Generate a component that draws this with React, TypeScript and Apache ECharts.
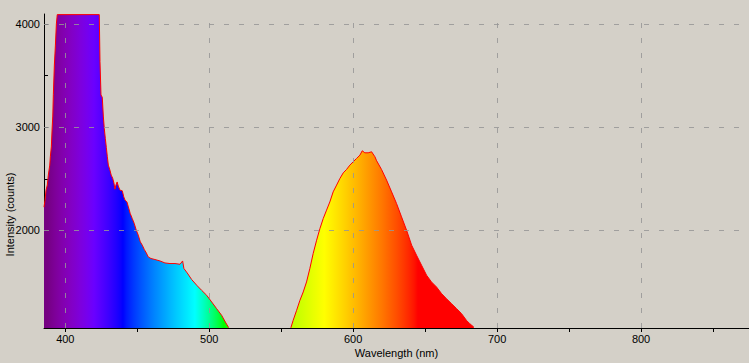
import React, { useEffect, useRef } from "react";
import * as echarts from "echarts";

// Spectrum data: wavelength (nm) and intensity (counts).
// null marks where the signal is below the visible range (gap in the trace).
const wavelengths = [
  385.2, 385.9, 386.6, 387.5, 388.2, 389.2, 389.6, 390.3, 390.8, 391.3, 391.7, 392.4, 393.1, 393.8, 394.4,
  423.6, 424.1, 424.8, 425.7, 426.4, 427.1, 427.8, 428.5, 429.2, 429.9, 431.0, 431.9, 432.9, 433.8, 434.5,
  435.2, 436.0, 436.8, 438.0, 439.6, 440.6, 441.5, 442.8, 443.8, 445.1, 446.5, 447.9, 449.3, 450.7, 452.1,
  453.5, 454.9, 456.3, 457.6, 459.5, 462.3, 465.8, 469.2, 472.7, 476.2, 479.7, 481.5, 482.4, 484.7, 487.8,
  491.3, 494.7, 498.2, 501.7, 505.1, 508.6, 511.6, 513.5, 535.0,
  556.7, 558.3, 560.7, 563.0, 565.3, 567.6, 569.9, 572.2, 574.6, 576.9, 579.2, 581.5, 583.8, 586.1,
  588.5, 590.8, 593.1, 595.4, 597.7, 600.0, 602.4, 604.7, 606.3, 608.1, 610.4, 612.8, 615.1, 616.3, 619.7,
  623.2, 626.7, 630.1, 633.6, 637.1, 640.6, 644.0, 647.5, 651.0, 654.4, 657.9, 661.4, 664.8, 668.3, 671.8,
  675.3, 678.7, 681.0, 683.8,
];
const counts: (number | null)[] = [
  2226, 2294, 2390, 2440, 2536, 2633, 2714, 2810, 2972, 3108, 3318, 3602, 3787, 4000, 4090,
  4090, 3635, 3312, 3290, 3108, 2985, 2892, 2805, 2714, 2633, 2585, 2536, 2507, 2459, 2400,
  2440, 2470, 2430, 2390, 2384, 2326, 2294, 2277, 2229, 2165, 2116, 2068, 2003, 1955, 1890,
  1858, 1816, 1783, 1744, 1729, 1719, 1705, 1686, 1680, 1680, 1673, 1705, 1632, 1589, 1525,
  1470, 1421, 1373, 1308, 1244, 1179, 1104, 1060, null,
  1058, 1130, 1227, 1324, 1405, 1502, 1632, 1777, 1906, 2019, 2116, 2197, 2277, 2374,
  2440, 2504, 2558, 2591, 2633, 2665, 2698, 2730, 2772, 2752, 2752, 2762, 2714, 2675, 2591,
  2488, 2374, 2262, 2132, 2003, 1858, 1761, 1664, 1567, 1502, 1453, 1389, 1340, 1292, 1244,
  1195, 1130, 1098, 1065,
];

const xLabelValues = [400, 500, 600, 700, 800];
const xTickValues = [400, 450, 500, 550, 600, 650, 700, 750, 800, 850];
const yLabelValues = [2000, 3000, 4000];
const yTickValues = [1500, 2000, 2500, 3000, 3500, 4000];

const X_MIN = 385.2;
const X_MAX = 875;
const Y_MIN = 1056;
const Y_MAX = 4096;

const xTitle = "Wavelength (nm)";
const yTitle = "Intensity (counts)";

const GRID_LEFT = 44;
const GRID_RIGHT = 0;
const GRID_TOP = 14;
const GRID_BOTTOM = 35;
const W = 749;
const H = 363;

function spectrumColor(wl: number): string {
  let r = 0, g = 0, b = 0;
  if (wl < 440) { r = -(wl - 440) / 60; b = 1; }
  else if (wl < 490) { g = (wl - 440) / 50; b = 1; }
  else if (wl < 510) { g = 1; b = -(wl - 510) / 20; }
  else if (wl < 580) { r = (wl - 510) / 70; g = 1; }
  else if (wl < 645) { r = 1; g = -(wl - 645) / 65; }
  else { r = 1; }
  let f = 1;
  if (wl < 420) f = 0.3 + (0.7 * (wl - 380)) / 40;
  else if (wl > 700) f = Math.max(0.3, 0.3 + (0.7 * (780 - wl)) / 80);
  const c = (v: number) => Math.round(255 * Math.pow(Math.max(0, Math.min(1, v * f)), 0.8));
  return `rgb(${c(r)},${c(g)},${c(b)})`;
}

export default function App() {
  const ref = useRef<HTMLDivElement>(null);
  useEffect(() => {
    if (!ref.current) return;
    const chart = echarts.init(ref.current, null, { renderer: "svg" });
    const stops: { offset: number; color: string }[] = [];
    for (let wl = 380; wl <= 880; wl += 2.5) {
      const off = (wl - X_MIN) / (X_MAX - X_MIN);
      if (off < 0 || off > 1) continue;
      stops.push({ offset: off, color: spectrumColor(wl) });
    }
    const gradient = new echarts.graphic.LinearGradient(
      GRID_LEFT, 0, W - GRID_RIGHT, 0, stops, true
    );
    const font = "Liberation Sans";
    const gridColor = "rgba(150,150,150,0.85)";
    const data = wavelengths.map((w, i) => [w, counts[i] === null ? "-" : counts[i]]);
    chart.setOption({
      animation: false,
      backgroundColor: "#d4d0c8",
      grid: {
        left: GRID_LEFT, right: GRID_RIGHT, top: GRID_TOP, bottom: GRID_BOTTOM,
        containLabel: false, outerBoundsMode: "none",
      },
      xAxis: {
        type: "value", min: X_MIN, max: X_MAX,
        axisLine: { show: true, onZero: false, lineStyle: { color: "#000", width: 1 } },
        axisTick: { show: true, customValues: xTickValues, length: 4, lineStyle: { color: "#000" } },
        axisLabel: {
          customValues: xLabelValues, color: "#000", fontSize: 11, fontFamily: font, margin: 5,
          formatter: (v: number) => String(v),
        },
        splitLine: { show: false },
      },
      yAxis: {
        type: "value", min: Y_MIN, max: Y_MAX,
        axisLine: { show: true, onZero: false, lineStyle: { color: "#000", width: 1 } },
        axisTick: { show: true, customValues: yTickValues, inside: true, length: 4, lineStyle: { color: "#000" } },
        axisLabel: {
          customValues: yLabelValues, color: "#000", fontSize: 11, fontFamily: font, margin: 4,
          formatter: (v: number) => String(v),
        },
        splitLine: { show: false },
      },
      series: [
        {
          type: "line",
          data,
          showSymbol: false,
          symbol: "none",
          clip: true,
          connectNulls: false,
          lineStyle: { color: "#ff0000", width: 1 },
          areaStyle: { color: gradient, opacity: 1, origin: "start" },
          silent: true,
          markLine: {
            silent: true,
            symbol: ["none", "none"],
            label: { show: false },
            lineStyle: { color: gridColor, type: [5, 10], width: 1 },
            emphasis: { disabled: true },
            data: [
              ...xLabelValues.map((v) => ({ xAxis: v })),
              ...yLabelValues.map((v) => ({ yAxis: v })),
            ],
          },
        },
      ],
      graphic: [
        {
          type: "text", x: (GRID_LEFT + W - GRID_RIGHT) / 2, y: 353,
          style: { text: xTitle, textAlign: "center", textVerticalAlign: "middle", font: `11px "${font}"`, fill: "#000" },
        },
        {
          type: "text", x: 10, y: 214.5, rotation: Math.PI / 2,
          style: { text: yTitle, textAlign: "center", textVerticalAlign: "middle", font: `11px "${font}"`, fill: "#000" },
        },
      ],
    });
    return () => chart.dispose();
  }, []);
  return (
    <div
      ref={ref}
      style={{ position: "absolute", left: 0, top: 0, width: W, height: H }}
    />
  );
}
